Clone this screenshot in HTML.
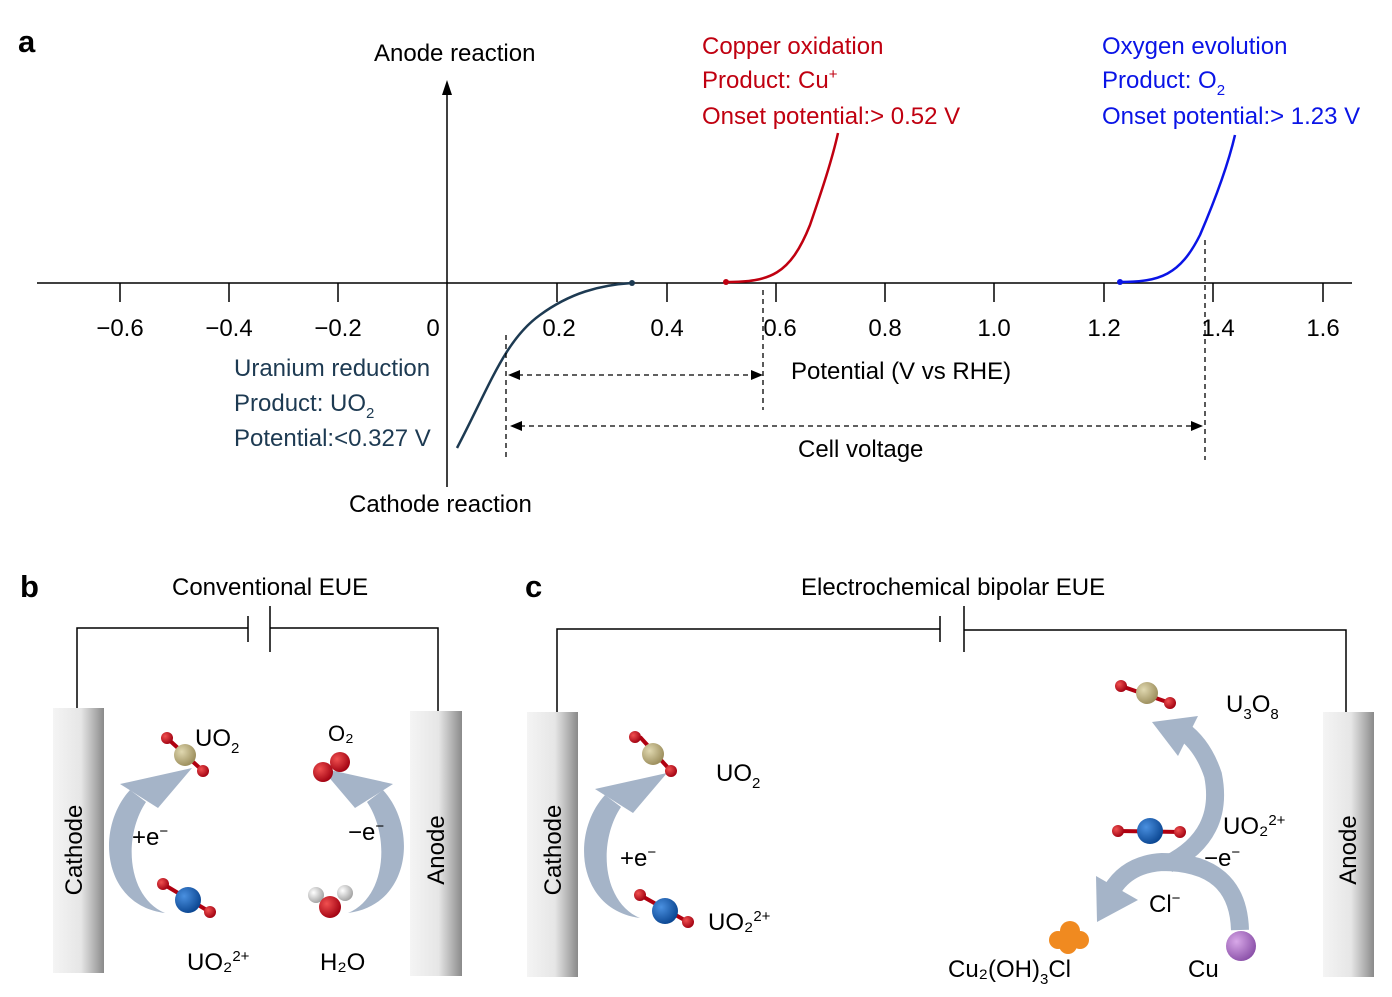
<!DOCTYPE html>
<html><head><meta charset="utf-8"><style>
body{margin:0;background:#fff}
svg{display:block;font-family:"Liberation Sans",Arial,sans-serif}
</style></head><body>
<svg width="1392" height="997" viewBox="0 0 1392 997" xmlns="http://www.w3.org/2000/svg">
<defs>
<linearGradient id="el" x1="0" x2="1" y1="0" y2="0">
<stop offset="0" stop-color="#f4f4f4"/><stop offset="0.55" stop-color="#e6e6e6"/><stop offset="0.8" stop-color="#b4b4b4"/><stop offset="1" stop-color="#8a8a8a"/></linearGradient>
<radialGradient id="gold" cx="0.35" cy="0.35" r="0.7"><stop offset="0" stop-color="#e0d8b0"/><stop offset="1" stop-color="#9a8c5a"/></radialGradient>
<radialGradient id="blue" cx="0.35" cy="0.35" r="0.7"><stop offset="0" stop-color="#4a90e0"/><stop offset="1" stop-color="#0a4590"/></radialGradient>
<radialGradient id="red" cx="0.35" cy="0.35" r="0.7"><stop offset="0" stop-color="#f05050"/><stop offset="1" stop-color="#a00010"/></radialGradient>
<radialGradient id="wh" cx="0.35" cy="0.35" r="0.7"><stop offset="0" stop-color="#ffffff"/><stop offset="1" stop-color="#a0a0a0"/></radialGradient>
<radialGradient id="pur" cx="0.35" cy="0.35" r="0.7"><stop offset="0" stop-color="#d8a8e8"/><stop offset="1" stop-color="#8a50a8"/></radialGradient>
<g id="arr">
<path d="M165,913 C102,905 95,828 130,790 L146,802 C122,838 128,898 165,913 Z" fill="#a5b4c8"/>
<polygon points="120,784 192,768 158,808" fill="#a5b4c8"/>
</g>
</defs>

<!-- Panel a -->
<text x="18" y="52" font-size="31" font-weight="bold">a</text>
<line x1="37" y1="283" x2="1352" y2="283" stroke="#000" stroke-width="1.5"/>
<line x1="447" y1="487" x2="447" y2="90" stroke="#000" stroke-width="1.5"/>
<polygon points="447,80 442,95 452,95" fill="#000"/>
<g stroke="#000" stroke-width="1.5">
<line x1="120" y1="283" x2="120" y2="302"/><line x1="229" y1="283" x2="229" y2="302"/><line x1="338" y1="283" x2="338" y2="302"/>
<line x1="557" y1="283" x2="557" y2="302"/><line x1="667" y1="283" x2="667" y2="302"/><line x1="776" y1="283" x2="776" y2="302"/>
<line x1="885" y1="283" x2="885" y2="302"/><line x1="994" y1="283" x2="994" y2="302"/><line x1="1104" y1="283" x2="1104" y2="302"/>
<line x1="1213" y1="283" x2="1213" y2="302"/><line x1="1323" y1="283" x2="1323" y2="302"/>
</g>
<g font-size="24" text-anchor="middle">
<text x="120" y="336">−0.6</text><text x="229" y="336">−0.4</text><text x="338" y="336">−0.2</text><text x="433" y="336">0</text>
<text x="559" y="336">0.2</text><text x="667" y="336">0.4</text><text x="780" y="336">0.6</text><text x="885" y="336">0.8</text>
<text x="994" y="336">1.0</text><text x="1104" y="336">1.2</text><text x="1218" y="336">1.4</text><text x="1323" y="336">1.6</text>
</g>
<path d="M457,448 C490,385 505,340 540,315 C570,293 600,285 632,283" fill="none" stroke="#1d3a52" stroke-width="2.5"/>
<circle cx="632" cy="283" r="3" fill="#1d3a52"/>
<path d="M726,282 C770,282 790,275 810,225 C822,190 832,160 838,133" fill="none" stroke="#c00010" stroke-width="2.5"/>
<circle cx="726" cy="282" r="3" fill="#c00010"/>
<path d="M1120,282 C1160,282 1180,275 1200,235 C1215,200 1228,165 1235,135" fill="none" stroke="#0a14e6" stroke-width="2.5"/>
<circle cx="1120" cy="282" r="3" fill="#0a14e6"/>
<g stroke="#000" stroke-width="1.3" stroke-dasharray="5,4" fill="none">
<line x1="506" y1="335" x2="506" y2="460"/>
<line x1="763" y1="290" x2="763" y2="410"/>
<line x1="1205" y1="240" x2="1205" y2="460"/>
<line x1="518" y1="375" x2="752" y2="375"/>
<line x1="520" y1="426" x2="1192" y2="426"/>
</g>
<g fill="#000">
<polygon points="508,375 520,370 520,380"/><polygon points="763,375 751,370 751,380"/>
<polygon points="510,426 522,421 522,431"/><polygon points="1203,426 1191,421 1191,431"/>
</g>
<g font-size="24">
<text x="374" y="61">Anode reaction</text>
<text x="349" y="512">Cathode reaction</text>
<text x="791" y="379">Potential (V vs RHE)</text>
<text x="798" y="457">Cell voltage</text>
<g fill="#c00010"><text x="702" y="54">Copper oxidation</text><text x="702" y="88">Product: Cu<tspan font-size="15" dy="-9">+</tspan></text><text x="702" y="124">Onset potential:&gt; 0.52 V</text></g>
<g fill="#0a14e6"><text x="1102" y="54">Oxygen evolution</text><text x="1102" y="88">Product: O<tspan font-size="15" dy="7">2</tspan></text><text x="1102" y="124">Onset potential:&gt; 1.23 V</text></g>
<g fill="#1d3a52"><text x="234" y="376">Uranium reduction</text><text x="234" y="411">Product: UO<tspan font-size="15" dy="7">2</tspan></text><text x="234" y="446">Potential:&lt;0.327 V</text></g>
</g>

<!-- Panel b -->
<text x="20" y="597" font-size="31" font-weight="bold">b</text>
<text x="172" y="595" font-size="24">Conventional EUE</text>
<g stroke="#000" stroke-width="1.5" fill="none">
<polyline points="77,710 77,628 248,628"/><polyline points="270,628 438,628 438,711"/>
<line x1="248" y1="616" x2="248" y2="642"/><line x1="270" y1="606" x2="270" y2="652"/>
</g>
<rect x="53" y="708" width="51" height="265" fill="url(#el)"/>
<rect x="410" y="711" width="52" height="265" fill="url(#el)"/>
<text transform="translate(82,850) rotate(-90)" font-size="24" text-anchor="middle">Cathode</text>
<text transform="translate(444,850) rotate(-90)" font-size="24" text-anchor="middle">Anode</text>
<use href="#arr"/>
<use href="#arr" transform="translate(513,0) scale(-1,1)"/>
<text x="132" y="845" font-size="24">+e<tspan font-size="15" dy="-9">−</tspan></text>
<text x="348" y="840" font-size="24">−e<tspan font-size="15" dy="-9">−</tspan></text>
<g stroke="#b00010" stroke-width="4"><line x1="167" y1="738" x2="203" y2="771"/><line x1="640" y1="737" x2="671" y2="771"/><line x1="1121" y1="686" x2="1170" y2="703"/>
<line x1="163" y1="884" x2="210" y2="912"/><line x1="640" y1="895" x2="688" y2="922"/><line x1="1118" y1="831" x2="1180" y2="832"/></g>
<circle cx="185" cy="755" r="11" fill="url(#gold)"/><circle cx="167" cy="738" r="6" fill="url(#red)"/><circle cx="203" cy="771" r="6" fill="url(#red)"/>
<circle cx="188" cy="900" r="13" fill="url(#blue)"/><circle cx="163" cy="884" r="6" fill="url(#red)"/><circle cx="210" cy="912" r="6" fill="url(#red)"/>
<circle cx="323" cy="772" r="10" fill="url(#red)"/><circle cx="340" cy="762" r="10" fill="url(#red)"/>
<circle cx="316" cy="895" r="8" fill="url(#wh)"/><circle cx="345" cy="893" r="8" fill="url(#wh)"/><circle cx="330" cy="907" r="11" fill="url(#red)"/>
<text x="195" y="746" font-size="24">UO<tspan font-size="15" dy="7">2</tspan></text>
<text x="328" y="741" font-size="22">O₂</text>
<text x="187" y="970" font-size="24">UO₂<tspan font-size="15" dy="-9">2+</tspan></text>
<text x="320" y="970" font-size="24">H₂O</text>

<!-- Panel c -->
<text x="525" y="597" font-size="31" font-weight="bold">c</text>
<text x="801" y="595" font-size="24">Electrochemical bipolar EUE</text>
<g stroke="#000" stroke-width="1.5" fill="none">
<polyline points="557,712 557,629 940,629"/><polyline points="964,630 1346,630 1346,714"/>
<line x1="940" y1="616" x2="940" y2="642"/><line x1="964" y1="606" x2="964" y2="652"/>
</g>
<rect x="527" y="712" width="51" height="265" fill="url(#el)"/>
<rect x="1323" y="712" width="51" height="265" fill="url(#el)"/>
<text transform="translate(561,850) rotate(-90)" font-size="24" text-anchor="middle">Cathode</text>
<text transform="translate(1356,850) rotate(-90)" font-size="24" text-anchor="middle">Anode</text>
<use href="#arr" transform="translate(475,5)"/>
<text x="620" y="866" font-size="24">+e<tspan font-size="15" dy="-9">−</tspan></text>
<circle cx="653" cy="754" r="11" fill="url(#gold)"/><circle cx="635" cy="737" r="6" fill="url(#red)"/><circle cx="671" cy="771" r="6" fill="url(#red)"/>
<circle cx="665" cy="911" r="13" fill="url(#blue)"/><circle cx="640" cy="895" r="6" fill="url(#red)"/><circle cx="688" cy="922" r="6" fill="url(#red)"/>
<text x="716" y="781" font-size="24">UO<tspan font-size="15" dy="7">2</tspan></text>
<text x="708" y="930" font-size="24">UO₂<tspan font-size="15" dy="-9">2+</tspan></text>
<path d="M1240,930 Q1238,862 1162,862 Q1128,864 1112,890" fill="none" stroke="#a5b4c8" stroke-width="18"/>
<polygon points="1097,922 1096,876 1138,900" fill="#a5b4c8"/>
<path d="M1168,864 Q1225,835 1213,775 Q1203,745 1182,730" fill="none" stroke="#a5b4c8" stroke-width="18"/>
<polygon points="1152,722 1198,716 1178,756" fill="#a5b4c8"/>
<circle cx="1147" cy="693" r="11" fill="url(#gold)"/><circle cx="1121" cy="686" r="6" fill="url(#red)"/><circle cx="1170" cy="703" r="6" fill="url(#red)"/>
<circle cx="1150" cy="831" r="13" fill="url(#blue)"/><circle cx="1118" cy="831" r="6" fill="url(#red)"/><circle cx="1180" cy="832" r="6" fill="url(#red)"/>
<circle cx="1241" cy="946" r="15" fill="url(#pur)"/>
<g fill="#f08a20"><circle cx="1058" cy="940" r="9"/><circle cx="1070" cy="931" r="10"/><circle cx="1080" cy="940" r="9"/><circle cx="1068" cy="945" r="9"/></g>
<text x="1226" y="712" font-size="24">U<tspan font-size="15" dy="7">3</tspan><tspan dy="-7">O</tspan><tspan font-size="15" dy="7">8</tspan></text>
<text x="1223" y="834" font-size="24">UO₂<tspan font-size="15" dy="-9">2+</tspan></text>
<text x="1204" y="866" font-size="24">−e<tspan font-size="15" dy="-9">−</tspan></text>
<text x="1149" y="912" font-size="24">Cl<tspan font-size="15" dy="-9">−</tspan></text>
<text x="1188" y="977" font-size="24">Cu</text>
<text x="948" y="977" font-size="24">Cu₂(OH)<tspan font-size="15" dy="7">3</tspan><tspan dy="-7">Cl</tspan></text>
</svg>
</body></html>
